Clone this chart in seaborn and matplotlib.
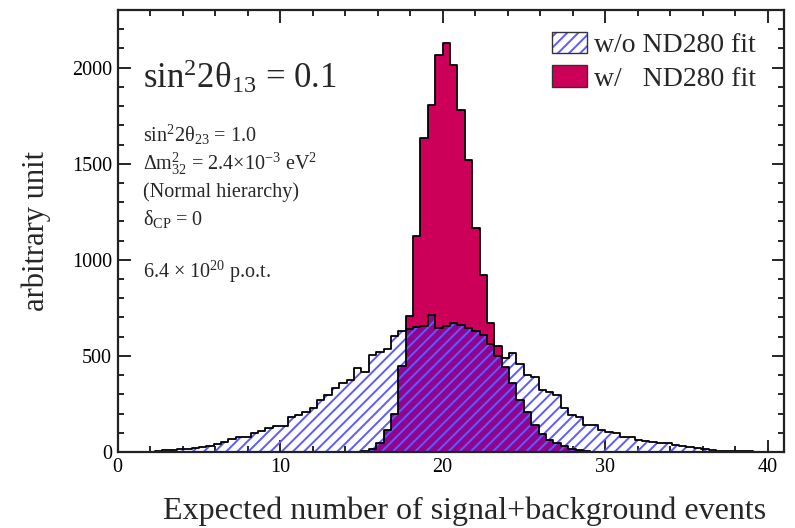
import numpy as np
import pandas as pd
import seaborn as sns
import matplotlib.pyplot as plt
from matplotlib.patches import Patch
from matplotlib.legend_handler import HandlerTuple

# Histogram binning: 88 equal bins spanning 0..40 expected events
N_BINS = 88
X_MAX = 40.0

# Toy-MC distribution of expected events, without the near-detector fit
without_fit = [
    0, 0, 0, 0, 0, 3, 8, 10, 15, 18,
    22, 28, 33, 42, 54, 66, 76, 80, 98, 111,
    123, 135, 135, 184, 193, 210, 228, 271, 297, 332,
    358, 375, 436, 418, 505, 522, 535, 601, 627, 640,
    650, 653, 714, 644, 653, 670, 661, 644, 627, 609,
    560, 500, 490, 515, 460, 400, 392, 323, 314, 297,
    228, 193, 184, 140, 140, 115, 105, 97, 80, 80,
    62, 58, 54, 45, 48, 36, 30, 28, 19, 14,
    10, 7, 6, 5, 4, 3, 2, 1,
]

# Same distribution, constrained by the ND280 fit
with_fit = [
    0, 0, 0, 0, 0, 0, 0, 0, 0, 0,
    0, 0, 0, 0, 0, 0, 0, 0, 0, 0,
    0, 0, 0, 0, 0, 0, 0, 0, 0, 0,
    0, 0, 0, 5, 15, 45, 115, 200, 450, 710,
    1125, 1635, 1805, 2065, 2130, 2015, 1780, 1520, 1165, 920,
    670, 550, 440, 360, 270, 210, 140, 95, 62, 45,
    30, 18, 10, 5, 0, 0, 0, 0, 0, 0,
    0, 0, 0, 0, 0, 0, 0, 0, 0, 0,
    0, 0, 0, 0, 0, 0, 0, 0,
]

legend_labels = ["w/o ND280 fit", "w/   ND280 fit"]

edges = np.linspace(0.0, X_MAX, N_BINS + 1)
centers = 0.5 * (edges[:-1] + edges[1:])
df = pd.DataFrame({"x": centers, "without": without_fit, "with": with_fit})
# region shared by both histograms (crimson seen through the blue hatching)
df["shared"] = np.minimum(df["without"], df["with"])

CRIMSON = "#cc0058"
SHARED = "#900590"
HATCH_BLUE = "#5c5cff"

sns.set_theme(style="ticks")
plt.rcParams["font.family"] = ["Liberation Serif", "DejaVu Serif"]
plt.rcParams["mathtext.fontset"] = "custom"
plt.rcParams["mathtext.rm"] = "Liberation Serif"
plt.rcParams["mathtext.it"] = "Liberation Serif:italic"
plt.rcParams["mathtext.default"] = "regular"
plt.rcParams["hatch.linewidth"] = 1.4

fig = plt.figure(figsize=(7.95, 5.28), dpi=100)
ax = fig.add_axes([0.148, 0.144, 0.838, 0.837])

bin_list = list(edges)

# constrained distribution: solid crimson
sns.histplot(data=df, x="x", weights="with", bins=bin_list, element="step",
             fill=True, color=CRIMSON, alpha=1.0, linewidth=0, ax=ax)
ax.collections[-1].set_facecolor(CRIMSON)
sns.histplot(data=df, x="x", weights="shared", bins=bin_list, element="step",
             fill=True, color=SHARED, alpha=1.0, linewidth=0, ax=ax)
ax.collections[-1].set_facecolor(SHARED)
sns.histplot(data=df, x="x", weights="with", bins=bin_list, element="step",
             fill=False, color="black", linewidth=1.3, ax=ax)

# unconstrained distribution: transparent with blue hatching on top
sns.histplot(data=df, x="x", weights="without", bins=bin_list, element="step",
             fill=True, color=HATCH_BLUE, alpha=1.0, linewidth=0, ax=ax)
hatched = ax.collections[-1]
hatched.set_facecolor("none")
hatched.set_edgecolor(HATCH_BLUE)
hatched.set_linewidth(0)
hatched.set_hatch("///")
sns.histplot(data=df, x="x", weights="without", bins=bin_list, element="step",
             fill=False, color="black", linewidth=1.3, ax=ax)

ax.set_xlim(0, 41)
ax.set_ylim(0, 2300)
ax.set_xticks([0, 10, 20, 30, 40])
ax.set_xticks(np.arange(0, 41, 2), minor=True)
ax.set_yticks([0, 500, 1000, 1500, 2000])
ax.set_yticks(np.arange(0, 2301, 100), minor=True)
ax.tick_params(which="both", direction="in", top=True, right=True,
               width=1.2, colors="black", labelsize=14.5)
ax.tick_params(which="major", length=9, pad=4)
ax.tick_params(which="minor", length=4.5)
for sp in ax.spines.values():
    sp.set_linewidth(1.6)
    sp.set_color("#222222")

ax.set_xlabel("Expected number of signal+background events", fontsize=23)
ax.set_ylabel("arbitrary unit", fontsize=22)
ax.xaxis.set_label_coords(0.52, -0.10)
ax.yaxis.set_label_coords(-0.100, 0.50)

# physics parameters
tx = 0.038
ax.text(tx, 0.824, r"$sin^{2}2\theta_{13}$ = 0.1", transform=ax.transAxes,
        fontsize=25, va="baseline", ha="left")
small = [
    (0.702, r"$sin^{2}2\theta_{23}$ = 1.0"),
    (0.638, r"$\Delta m^{2}_{32}$ = 2.4$\times$10$^{-3}$ eV$^{2}$"),
    (0.577, "(Normal hierarchy)"),
    (0.514, r"$\delta_{CP}$ = 0"),
    (0.394, r"6.4 $\times$ 10$^{20}$ p.o.t."),
]
for yy, s in small:
    ax.text(tx, yy, s, transform=ax.transAxes, fontsize=14.5,
            va="baseline", ha="left")

handles = [
    (Patch(facecolor="white", edgecolor=HATCH_BLUE, hatch="///", linewidth=0),
     Patch(facecolor="none", edgecolor="#333333", linewidth=1.0)),
    Patch(facecolor=CRIMSON, edgecolor="#333333", linewidth=1.0),
]
ax.legend(handles, legend_labels, loc="upper left", bbox_to_anchor=(0.636, 0.975),
          frameon=False, fontsize=20, handlelength=1.25, handleheight=0.8,
          handletextpad=0.25, labelspacing=0.25, borderaxespad=0,
          handler_map={tuple: HandlerTuple(ndivide=1, pad=0)})

fig.savefig("out.png", dpi=100)
